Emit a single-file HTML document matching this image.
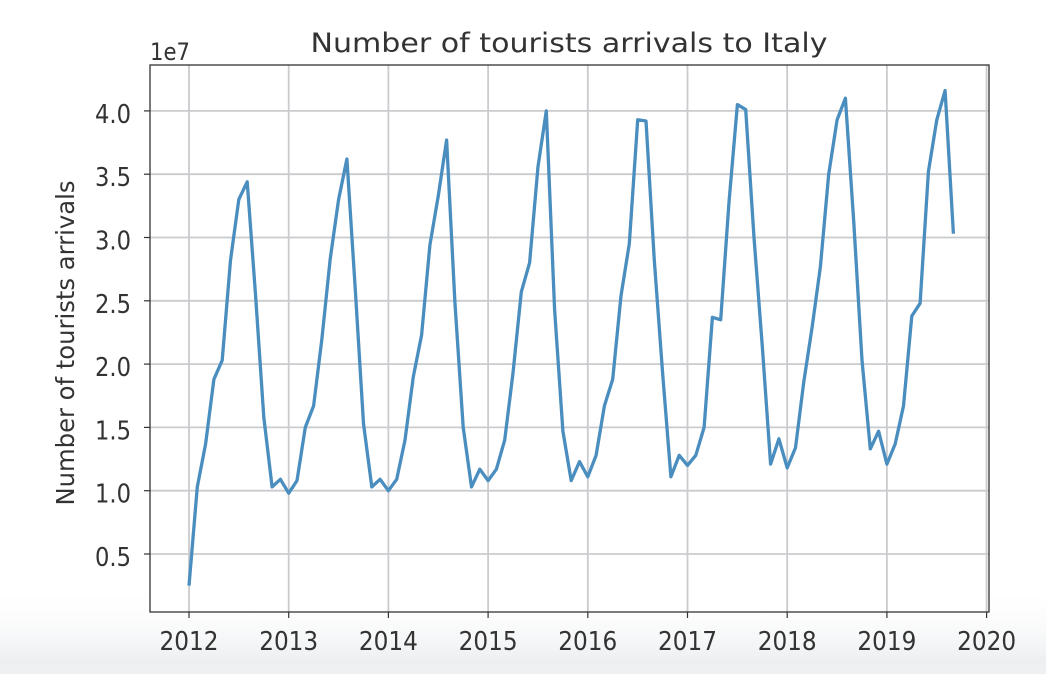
<!DOCTYPE html>
<html><head><meta charset="utf-8"><style>
html,body{margin:0;padding:0;background:#fff;}
svg{display:block;font-family:"DejaVu Sans","Liberation Sans",sans-serif;}
</style></head><body>
<svg id="chart" width="1046" height="674" viewBox="0 0 1046 674" xmlns="http://www.w3.org/2000/svg">
<defs><linearGradient id="fade" x1="0" y1="0" x2="0" y2="1"><stop offset="0" stop-color="#ffffff" stop-opacity="0"/><stop offset="1" stop-color="#eceef0" stop-opacity="1"/></linearGradient></defs>
<rect x="0" y="0" width="1046" height="674" fill="#fff"/>
<rect x="0" y="585" width="1046" height="78" fill="url(#fade)"/>
<rect x="0" y="663" width="1046" height="11" fill="#eff0f2"/>
<rect x="150" y="65" width="839" height="547" fill="#fff"/>
<g id="grid"></g>
<g id="ticks"></g>
<polyline id="line" fill="none" stroke="#4a8dbf" stroke-width="3.3" stroke-linejoin="round"/>
<rect x="150" y="65" width="839" height="547" fill="none" stroke="#333" stroke-width="1.3"/>
<text x="569" y="52" text-anchor="middle" font-size="27" textLength="517" lengthAdjust="spacingAndGlyphs" fill="#333">Number of tourists arrivals to Italy</text>
<text x="150" y="60" font-size="24" textLength="40" lengthAdjust="spacingAndGlyphs" fill="#333">1e7</text>
<text transform="translate(74,343) rotate(-90)" text-anchor="middle" font-size="25" textLength="325" lengthAdjust="spacingAndGlyphs" fill="#333">Number of tourists arrivals</text>
</svg>
<script>
const yTicks=[0.5,1.0,1.5,2.0,2.5,3.0,3.5,4.0];
const yTickLabels=["0.5","1.0","1.5","2.0","2.5","3.0","3.5","4.0"];
const xYears=[2012,2013,2014,2015,2016,2017,2018,2019,2020];
const startYear=2012;
const arrivals=[
0.25,1.03,1.37,1.88,2.03,2.82,3.3,3.44,2.55,1.58,1.03,1.09,
0.98,1.08,1.5,1.67,2.2,2.83,3.3,3.62,2.6,1.53,1.03,1.09,
1.0,1.09,1.4,1.9,2.23,2.94,3.33,3.77,2.49,1.5,1.03,1.17,
1.08,1.17,1.4,1.93,2.57,2.8,3.56,4.0,2.43,1.47,1.08,1.23,
1.11,1.28,1.67,1.88,2.54,2.95,3.93,3.92,2.82,1.93,1.11,1.28,
1.2,1.28,1.5,2.37,2.35,3.28,4.05,4.01,3.0,2.14,1.21,1.41,
1.18,1.34,1.86,2.29,2.77,3.5,3.93,4.1,3.13,2.03,1.33,1.47,
1.21,1.37,1.67,2.38,2.48,3.52,3.93,4.16,3.03];
const NS="http://www.w3.org/2000/svg";
const L=150,R=989,T=65,B=612;
function xs(t){return 189+(t-2012)*99.7;}
function ys(v){return 554-(v-0.5)*126.6;}
const grid=document.getElementById('grid'),ticks=document.getElementById('ticks');
function mk(tag,attrs,parent){const e=document.createElementNS(NS,tag);for(const k in attrs)e.setAttribute(k,attrs[k]);parent.appendChild(e);return e;}
yTicks.forEach((v,i)=>{
  const y=ys(v);
  const g=mk('line',{x1:L,x2:R,y1:y,y2:y,stroke:'#c9cbce','stroke-width':1.8},grid);
  
  
  const tk=mk('line',{x1:L-6,x2:L,y1:y,y2:y,stroke:'#333','stroke-width':1.2},ticks);
  
  
  const t=mk('text',{x:L-19,y:y+12,'text-anchor':'end','font-size':26,textLength:36,lengthAdjust:'spacingAndGlyphs',fill:'#333'},ticks);
  t.textContent=yTickLabels[i];
  
  
});
xYears.forEach(yr=>{
  const x=xs(yr);
  const g=mk('line',{x1:x,x2:x,y1:T,y2:B,stroke:'#c9cbce','stroke-width':1.8},grid);
  
  
  const tk=mk('line',{x1:x,x2:x,y1:B,y2:B+6,stroke:'#333','stroke-width':1.2},ticks);
  
  
  const t=mk('text',{x:x,y:650,'text-anchor':'middle','font-size':26,textLength:59,lengthAdjust:'spacingAndGlyphs',fill:'#333'},ticks);
  t.textContent=String(yr);
  
  
});
document.getElementById('line').setAttribute('points',arrivals.map((v,i)=>xs(startYear+i/12).toFixed(1)+','+ys(v).toFixed(1)).join(' '));
</script>
</body></html>
